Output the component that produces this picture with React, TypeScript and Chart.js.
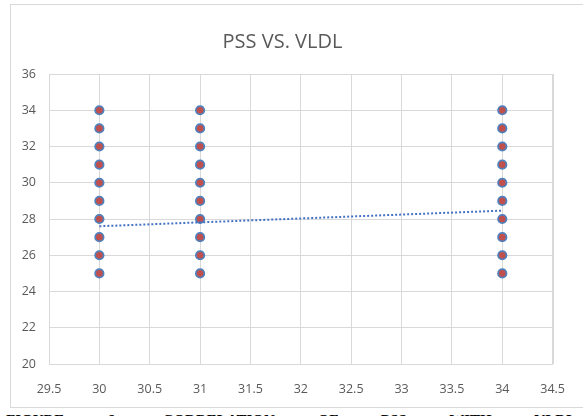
import React, { useEffect, useRef } from "react";
import { Chart, registerables } from "chart.js";

Chart.register(...registerables);

const titleText = "PSS VS. VLDL";
const captionText = "FIGURE 6: CORRELATION OF PSS WITH VLDL";

// VLDL (x) groups and PSS (y) values
const groupX = [30, 31, 34];
const pssAt30 = [25, 26, 27, 28, 29, 30, 31, 32, 33, 34];
const pssAt31 = [25, 26, 27, 28, 29, 30, 31, 32, 33, 34];
const pssAt34 = [25, 26, 27, 28, 29, 30, 31, 32, 33, 34];

// linear trendline endpoints
const trendX = [30, 34];
const trendY = [27.6, 28.46];

const xMin = 29.5, xMax = 34.5, xStep = 0.5;
const yMin = 20, yMax = 36, yStep = 2;

export default function App() {
  const ref = useRef<HTMLCanvasElement | null>(null);

  useEffect(() => {
    if (!ref.current) return;
    const groups = [pssAt30, pssAt31, pssAt34];
    const points: { x: number; y: number }[] = [];
    groups.forEach((vals, i) => vals.forEach((v) => points.push({ x: groupX[i], y: v })));
    const trend = trendX.map((x, i) => ({ x, y: trendY[i] }));

    const chart = new Chart(ref.current, {
      type: "scatter",
      data: {
        datasets: [
          {
            type: "line",
            data: trend,
            borderColor: "#4472C4",
            borderWidth: 2,
            borderDash: [2, 2],
            pointRadius: 0,
            fill: false,
            order: 0,
          } as any,
          {
            data: points,
            backgroundColor: "#C0504D",
            borderColor: "#4F81BD",
            borderWidth: 1.8,
            pointRadius: 4.2,
            order: 1,
          },
        ],
      },
      options: {
        animation: false,
        responsive: false,
        devicePixelRatio: 1,
        layout: { padding: { left: 0, right: 29, top: 0, bottom: 0 } },
        plugins: {
          legend: { display: false },
          tooltip: { enabled: false },
          title: {
            display: true,
            text: titleText,
            color: "#595959",
            font: { family: "'Open Sans', sans-serif", size: 20, weight: "normal" as any },
            padding: { top: 25, bottom: 20 },
          },
        },
        scales: {
          x: {
            type: "linear",
            min: xMin,
            max: xMax,
            afterFit: (s: any) => { s.height = 44; },
            afterBuildTicks: (s: any) => {
              const t = [];
              for (let v = xMin; v <= xMax + 1e-9; v += xStep) t.push({ value: Math.round(v * 10) / 10 });
              s.ticks = t;
            },
            ticks: {
              color: "#595959",
              font: { family: "'Open Sans', sans-serif", size: 12.5 },
              padding: 18,
              maxRotation: 0,
              autoSkip: false,
              callback: (v: any) => String(v),
            },
            grid: { color: "#D9D9D9", lineWidth: 1, tickLength: 0, drawTicks: false },
            border: { color: "#D9D9D9" },
          },
          y: {
            type: "linear",
            min: yMin,
            max: yMax,
            afterFit: (s: any) => { s.width = 38; },
            ticks: {
              stepSize: yStep,
              color: "#595959",
              font: { family: "'Open Sans', sans-serif", size: 12.5 },
              padding: 13,
            },
            grid: { color: "#D9D9D9", lineWidth: 1, tickLength: 0, drawTicks: false },
            border: { color: "#D9D9D9" },
          },
        },
      },
      plugins: [
        {
          id: "frameRight",
          afterDraw(c: any) {
            const { ctx, chartArea } = c;
            ctx.save();
            ctx.strokeStyle = "#D9D9D9";
            ctx.lineWidth = 1;
            ctx.beginPath();
            ctx.moveTo(Math.round(chartArea.right) + 0.5, chartArea.top);
            ctx.lineTo(Math.round(chartArea.right) + 0.5, chartArea.bottom);
            ctx.stroke();
            ctx.restore();
          },
        },
      ],
    });
    return () => chart.destroy();
  }, []);

  return (
    <div style={{ position: "fixed", left: 0, top: 0, width: 583, height: 416, overflow: "hidden", background: "#fff" }}>
      <div
        style={{
          position: "absolute",
          left: 10,
          top: 4,
          width: 600,
          height: 404,
          border: "1px solid #D9D9D9",
          boxSizing: "border-box",
        }}
      />
      <canvas
        ref={ref}
        width={572}
        height={403}
        style={{ position: "absolute", left: 11, top: 5, width: 572, height: 403 }}
      />
      <div
        style={{
          position: "absolute",
          left: 6,
          top: 412,
          width: 570,
          fontFamily: "'Liberation Serif', 'Times New Roman', serif",
          fontWeight: "bold",
          fontSize: 15,
          lineHeight: "17px",
          textAlign: "justify",
          textAlignLast: "justify" as any,
          color: "#000",
          whiteSpace: "nowrap",
        }}
      >
        {captionText}
      </div>
    </div>
  );
}
